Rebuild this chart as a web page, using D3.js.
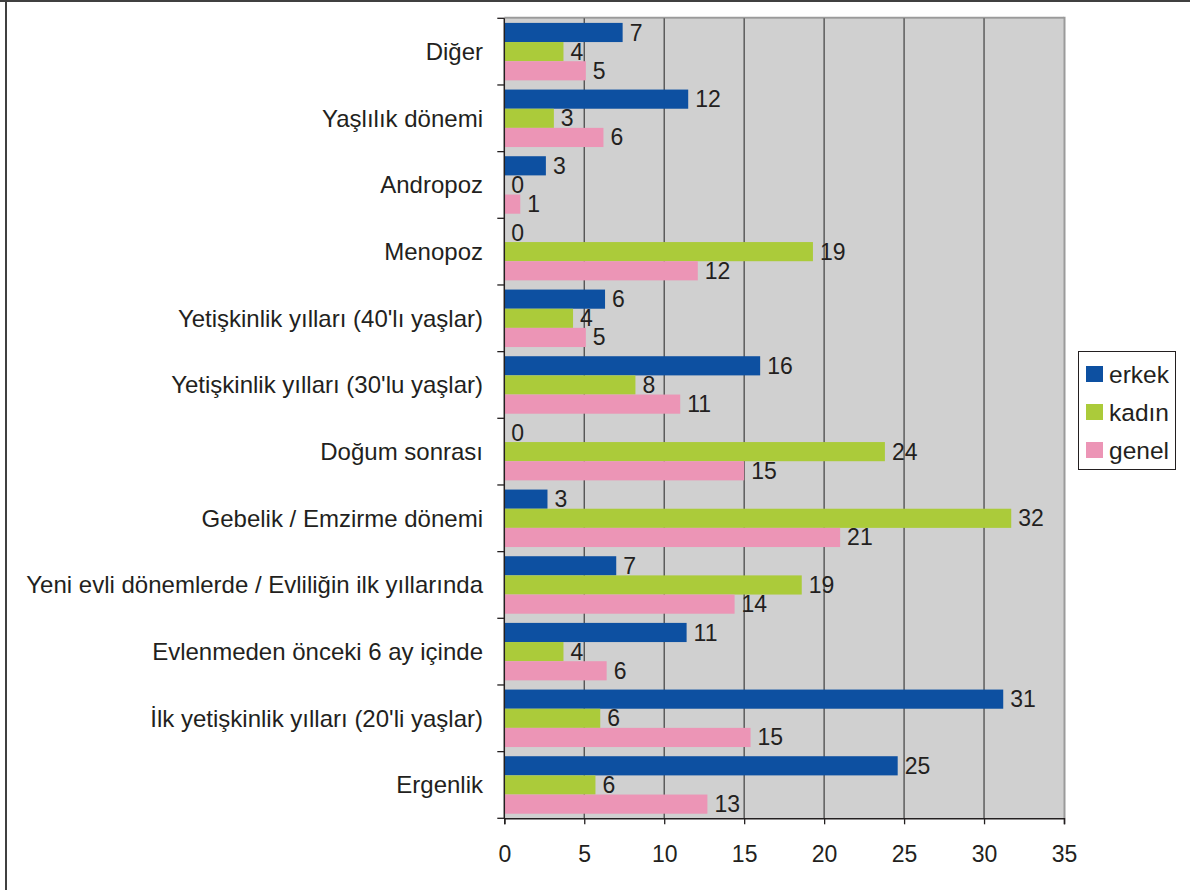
<!DOCTYPE html>
<html>
<head>
<meta charset="utf-8">
<script src="https://cdn.jsdelivr.net/npm/d3@7/dist/d3.min.js"></script>
<style>
  html, body { margin: 0; padding: 0; background: #fff; }
  svg { display: block; font-family: "Liberation Sans", Arial, Helvetica, sans-serif; }
</style>
</head>
<body>
<svg id="chart" width="1190" height="890"></svg>
<script>
// Categories, top to bottom
const categories = [
  "Diğer",
  "Yaşlılık dönemi",
  "Andropoz",
  "Menopoz",
  "Yetişkinlik yılları (40'lı yaşlar)",
  "Yetişkinlik yılları (30'lu yaşlar)",
  "Doğum sonrası",
  "Gebelik / Emzirme dönemi",
  "Yeni evli dönemlerde / Evliliğin ilk yıllarında",
  "Evlenmeden önceki 6 ay içinde",
  "İlk yetişkinlik yılları (20'li yaşlar)",
  "Ergenlik"
];

// Series (percent), same order as categories
const erkek = [7.4, 11.5, 2.6, 0, 6.3, 16.0, 0, 2.7, 7.0, 11.4, 31.2, 24.6];
const kadin = [3.7, 3.1, 0, 19.3, 4.3, 8.2, 23.8, 31.7, 18.6, 3.7, 6.0, 5.7];
const genel = [5.1, 6.2, 1.0, 12.1, 5.1, 11.0, 15.0, 21.0, 14.4, 6.4, 15.4, 12.7];

const seriesNames = ["erkek", "kadın", "genel"];
const seriesValues = [erkek, kadin, genel];
const seriesColors = ["#0d50a1", "#abcb3a", "#ec95b6"];

const xTicks = [0, 5, 10, 15, 20, 25, 30, 35];

const svg = d3.select("#chart");

// Outer frame (left and top edges)
svg.append("line").attr("x1", 6).attr("x2", 6).attr("y1", 0).attr("y2", 890)
  .attr("stroke", "#404040").attr("stroke-width", 2);
svg.append("line").attr("x1", 0).attr("x2", 1190).attr("y1", 1).attr("y2", 1)
  .attr("stroke", "#404040").attr("stroke-width", 2);

const plot = { left: 504.3, top: 18.3, width: 559.7, height: 800 };

const x = d3.scaleLinear().domain([0, 35]).range([plot.left, plot.left + plot.width]);
const y = d3.scaleBand().domain(categories).range([plot.top, plot.top + plot.height])
  .paddingInner(0).paddingOuter(0);
const inner = d3.scaleBand().domain(seriesNames)
  .range([0, y.bandwidth()]).paddingInner(0).paddingOuter(0.24);

// Plot background
svg.append("rect")
  .attr("x", plot.left).attr("y", plot.top)
  .attr("width", plot.width).attr("height", plot.height)
  .attr("fill", "#d0d0d0");

// Plot edges (top, right)
svg.append("line").attr("x1", plot.left).attr("x2", plot.left + plot.width)
  .attr("y1", plot.top - 0.5).attr("y2", plot.top - 0.5)
  .attr("stroke", "#9a9a9a").attr("stroke-width", 2);
svg.append("line").attr("x1", plot.left + plot.width + 0.5).attr("x2", plot.left + plot.width + 0.5)
  .attr("y1", plot.top - 1.5).attr("y2", plot.top + plot.height)
  .attr("stroke", "#9a9a9a").attr("stroke-width", 2);

// Vertical gridlines
svg.append("g").selectAll("line")
  .data(xTicks.filter(d => d > 0 && d < 35))
  .join("line")
  .attr("x1", d => x(d)).attr("x2", d => x(d))
  .attr("y1", plot.top).attr("y2", plot.top + plot.height)
  .attr("stroke", "#4a4a4a").attr("stroke-width", 1.3);

// Bars
const groups = svg.append("g").selectAll("g")
  .data(categories)
  .join("g")
  .attr("transform", d => `translate(0,${y(d)})`);

seriesNames.forEach((name, si) => {
  groups.append("rect")
    .attr("x", x(0))
    .attr("y", inner(name))
    .attr("width", (d, i) => x(seriesValues[si][i]) - x(0))
    .attr("height", inner.bandwidth())
    .attr("fill", seriesColors[si]);
});

// Value labels
const fmt = d3.format(".0f");
seriesNames.forEach((name, si) => {
  groups.append("text")
    .attr("x", (d, i) => x(seriesValues[si][i]) + 7)
    .attr("y", inner(name) + inner.bandwidth() / 2)
    .attr("dy", "0.35em")
    .attr("font-size", 23)
    .attr("fill", "#231f20")
    .text((d, i) => fmt(seriesValues[si][i]));
});

// Bottom axis
const xAxis = svg.append("g")
  .attr("transform", `translate(0,${plot.top + plot.height})`)
  .call(d3.axisBottom(x).tickValues(xTicks).tickSize(6).tickPadding(21).tickFormat(d3.format("d")));
xAxis.select(".domain").attr("stroke", "#231f20").attr("stroke-width", 1.5);
xAxis.selectAll(".tick line").attr("stroke", "#231f20").attr("stroke-width", 1.3);
xAxis.selectAll(".tick text")
  .attr("font-size", 23).attr("fill", "#231f20")
  .attr("font-family", "Liberation Sans, Arial, sans-serif");

// Left axis with ticks at category boundaries
const boundaries = d3.range(categories.length + 1).map(i => plot.top + i * y.bandwidth());
svg.append("line").attr("x1", plot.left).attr("x2", plot.left)
  .attr("y1", plot.top).attr("y2", plot.top + plot.height)
  .attr("stroke", "#231f20").attr("stroke-width", 1.5);
svg.append("g").selectAll("line")
  .data(boundaries)
  .join("line")
  .attr("x1", plot.left - 7).attr("x2", plot.left)
  .attr("y1", d => d).attr("y2", d => d)
  .attr("stroke", "#231f20").attr("stroke-width", 1.3);

// Category labels
svg.append("g").selectAll("text")
  .data(categories)
  .join("text")
  .attr("x", 483)
  .attr("y", d => y(d) + y.bandwidth() / 2)
  .attr("dy", "0.35em")
  .attr("text-anchor", "end")
  .attr("font-size", 24)
  .attr("fill", "#231f20")
  .text(d => d);

// Legend
const legend = svg.append("g");
legend.append("rect")
  .attr("x", 1078.5).attr("y", 351.5).attr("width", 97).attr("height", 118)
  .attr("fill", "#fff").attr("stroke", "#231f20").attr("stroke-width", 1);
const legendRow = d3.scalePoint().domain(seriesNames).range([374, 450]);
seriesNames.forEach((name, si) => {
  legend.append("rect")
    .attr("x", 1086).attr("y", legendRow(name) - 8)
    .attr("width", 17).attr("height", 16)
    .attr("fill", seriesColors[si]);
  legend.append("text")
    .attr("x", 1109).attr("y", legendRow(name))
    .attr("dy", "0.35em")
    .attr("font-size", 24.5)
    .attr("fill", "#231f20")
    .text(name);
});
</script>
</body>
</html>
